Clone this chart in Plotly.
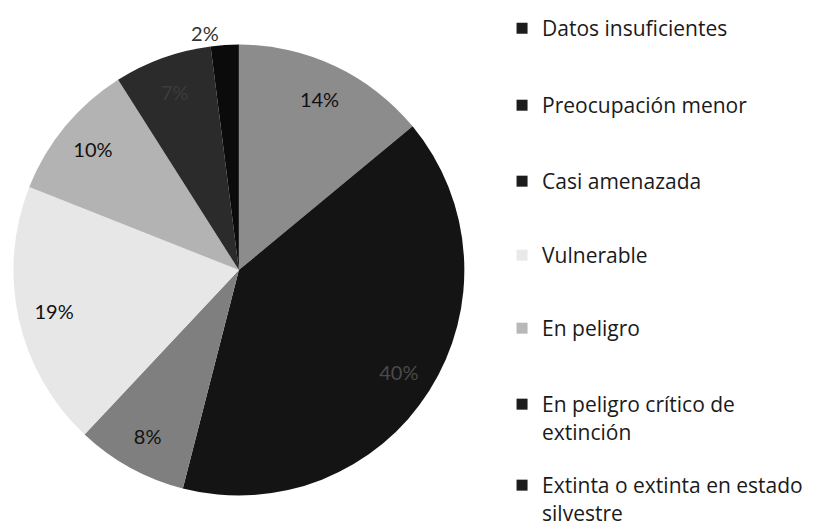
import plotly.graph_objects as go

CATEGORIES = [
    "Datos insuficientes",
    "Preocupación menor",
    "Casi amenazada",
    "Vulnerable",
    "En peligro",
    "En peligro crítico de<br>extinción",
    "Extinta o extinta en estado<br>silvestre",
]
PERCENTAGES = [14, 40, 8, 19, 10, 7, 2]

SLICE_COLORS = ["#8c8c8c", "#141414", "#7f7f7f", "#e7e7e7", "#b3b3b3", "#2b2b2b", "#0b0b0b"]
SWATCH_COLORS = ["#1c1c1c", "#1c1c1c", "#1c1c1c", "#e9e9e9", "#b8b8b8", "#1c1c1c", "#1c1c1c"]
LABEL_COLORS = ["#111111", "#4a4a4a", "#111111", "#111111", "#111111", "#3c3c3c", "#333333"]
TEXT_POS = ["inside"] * 6 + ["outside"]

# first-line centre of each legend entry, in pixels from the top
LEGEND_ROWS = [21, 99, 176, 251, 325, 402, 487]

FONT = "Lato, Carlito, Calibri, sans-serif"
LEGEND_FONT = "Open Sans, sans-serif"
W, H = 834, 525
PIE_DOMAIN = {"x": [-1.5 / W, 454.5 / W], "y": [38 / H, 495 / H]}

fig = go.Figure()

# the filled pie
fig.add_trace(
    go.Pie(
        labels=CATEGORIES,
        values=PERCENTAGES,
        sort=False,
        direction="clockwise",
        rotation=0,
        marker={"colors": SLICE_COLORS, "line": {"width": 0}},
        textinfo="none",
        showlegend=False,
        hoverinfo="skip",
        domain={"x": [0, 454.5 / W], "y": PIE_DOMAIN["y"]},
    )
)

# transparent ring on top, only to place the percentage labels near the rim
fig.add_trace(
    go.Pie(
        labels=CATEGORIES,
        values=PERCENTAGES,
        sort=False,
        direction="clockwise",
        rotation=0,
        hole=0.68,
        marker={"colors": ["rgba(0,0,0,0)"] * len(PERCENTAGES), "line": {"width": 0}},
        texttemplate="%{value}%",
        textposition=TEXT_POS,
        insidetextorientation="horizontal",
        insidetextfont={"family": FONT, "size": 20, "color": LABEL_COLORS},
        outsidetextfont={"family": FONT, "size": 20, "color": "#333333"},
        showlegend=False,
        domain={"x": [0, 454.5 / W], "y": PIE_DOMAIN["y"]},
    )
)

# legend entries, each in its own legend box so the rows can be spaced like the original
n = len(CATEGORIES)
for i, (name, col) in enumerate(zip(CATEGORIES, SWATCH_COLORS)):
    key = "legend" if i == 0 else f"legend{i + 1}"
    fig.add_trace(
        go.Scatter(
            x=[None],
            y=[None],
            mode="markers",
            name=name,
            legend=key,
            marker={"symbol": "square", "size": 11, "color": col},
        )
    )
    last = i == n - 1
    fig.update_layout(
        {
            key: {
                "x": 492 / W,
                "y": 0 if last else 1 - (LEGEND_ROWS[i] - 28) / H,
                "xanchor": "left",
                "yanchor": "bottom" if last else "top",
                "font": {"family": LEGEND_FONT, "size": 21, "color": "#1a1a1a"},
                "valign": "top",
                "bgcolor": "rgba(0,0,0,0)",
            }
        }
    )

fig.update_layout(
    width=W,
    height=H,
    margin={"l": 0, "r": 0, "t": 0, "b": 0},
    paper_bgcolor="white",
    plot_bgcolor="white",
    font={"family": FONT, "color": "#1a1a1a"},
    xaxis={"visible": False},
    yaxis={"visible": False},
)

fig.write_html("out.html")
